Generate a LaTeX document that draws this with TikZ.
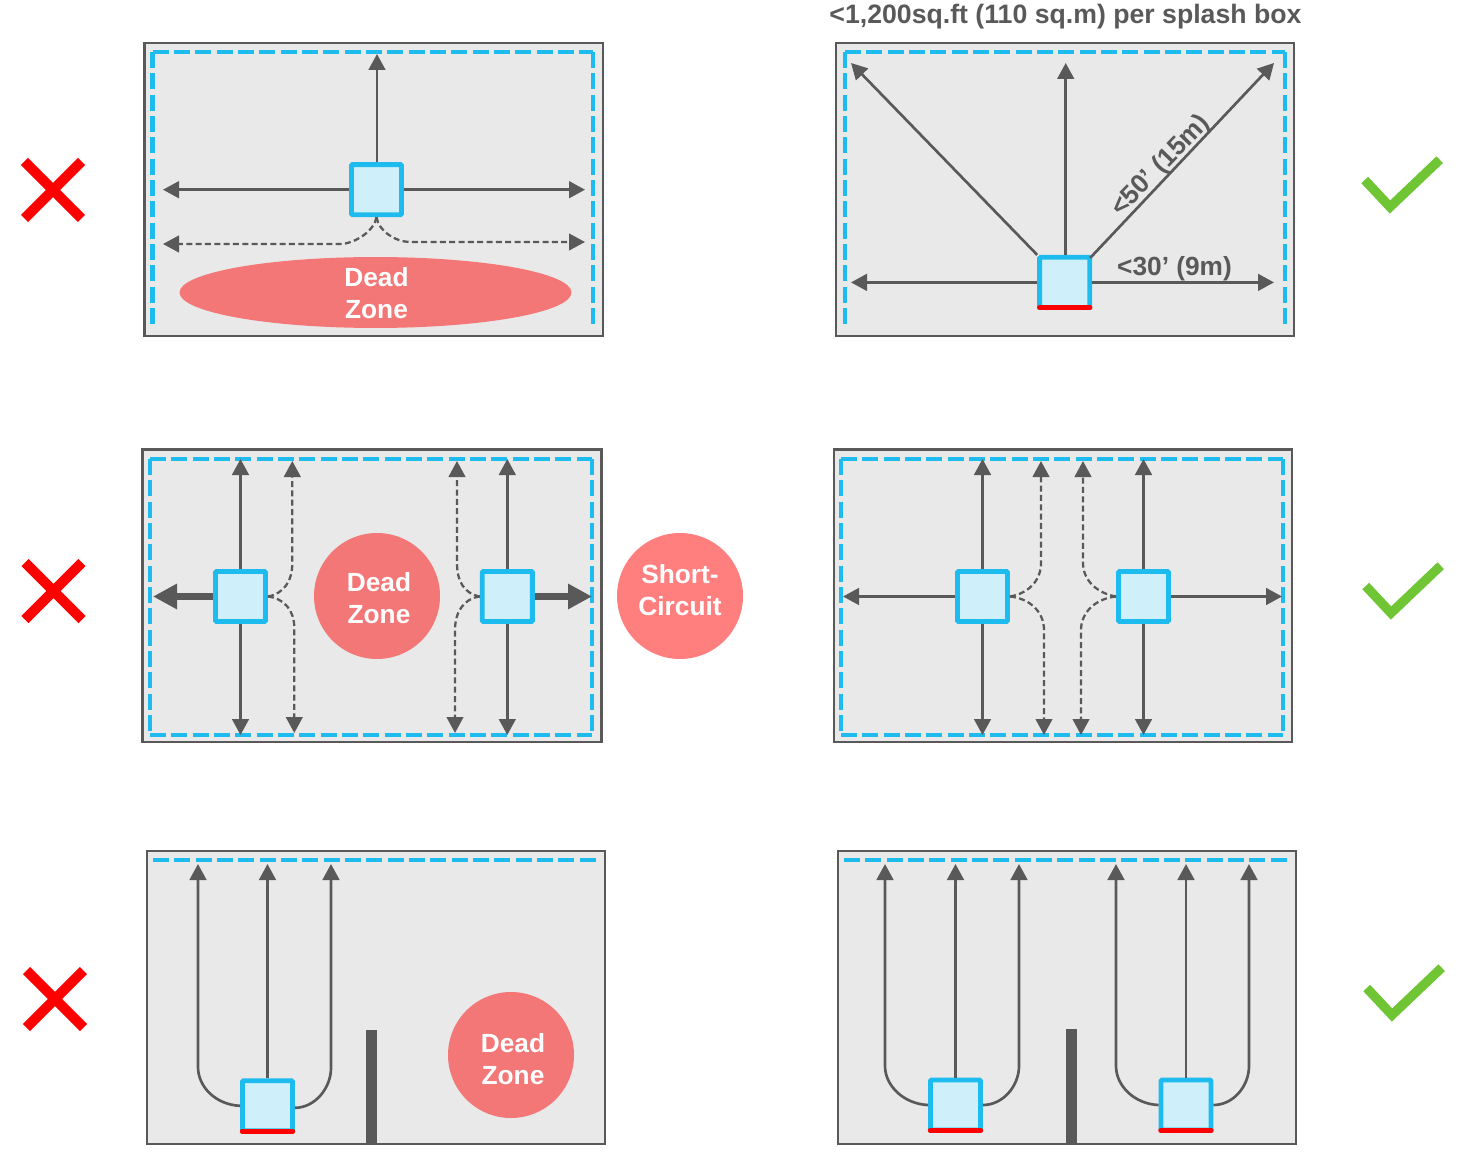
\documentclass[tikz,border=0pt]{standalone}
\usepackage{fontspec}
\setmainfont{Liberation Sans}
\usetikzlibrary{arrows.meta,shapes.geometric}
\definecolor{gfg}{HTML}{595959}
\definecolor{panelbg}{HTML}{E9E9E9}
\definecolor{splash}{HTML}{1EBCEE}
\definecolor{splashin}{HTML}{CFF0FA}
\definecolor{dead}{HTML}{F47777}
\definecolor{shortc}{HTML}{FF7F7F}
\definecolor{okgreen}{HTML}{70C535}
\tikzset{
  panel/.style={draw=gfg,fill=panelbg,line width=1.7pt},
  wavefront/.style={draw=splash,line width=3.6pt,dash pattern=on 12pt off 4pt},
  speaker/.style={rectangle,draw=splash,fill=splashin,line width=3.6pt,minimum size=37.6pt,inner sep=0pt,rounded corners=0.8pt},
  redbar/.style={draw=red,line width=3.6pt,line cap=round,shorten <=1.6pt,shorten >=1.6pt},
  ray/.style={draw=gfg,line width=2pt,-{Triangle[length=12pt,width=12.5pt]}},
  refl/.style={draw=gfg,line width=1.7pt,dash pattern=on 4.5pt off 2.5pt,-{Triangle[length=12pt,width=12.5pt,sep=0pt]}},
  thick ray/.style={draw=gfg,line width=5.8pt,-{Triangle[length=18pt,width=18pt]}},
  wall/.style={fill=gfg},
  deadzone/.style={circle,fill=dead,minimum size=94.5pt,inner sep=0pt},
  white label/.style={text=white,font=\fontsize{19.7}{24}\selectfont\bfseries,align=center,inner sep=0pt},
  gray label/.style={text=gfg,font=\fontsize{19.7}{24}\selectfont\bfseries,inner sep=0pt},
  crossmark/.style={draw=red,line width=7.5pt},
  tickmark/.style={draw=okgreen,line width=7pt,miter limit=10},
}
\begin{document}
\begin{tikzpicture}[x=0.75pt,y=-0.75pt]
\useasboundingbox (0,0) rectangle (1460,1155);

% ===== Row 1 left =====
\draw[panel] (144.5,43) rectangle (603,336);
\draw[wavefront] (152.5,52) -- (152.5,325) (152.5,52) -- (593,52) (593,52) -- (593,325);
\node[ellipse,fill=dead,minimum width=294pt,minimum height=53.2pt,inner sep=0pt] (ell) at (375.5,292.5) {};
\node[white label] (ellt) at (376.5,293) {Dead\\Zone};
\node[speaker] (a) at (376.5,189.7) {};
\coordinate (aU) at (377,54);
\coordinate (aL) at (163,189.7);
\coordinate (aR) at (585,189.7);
\coordinate (aDL) at (163,244);
\coordinate (aDR) at (585,242);
\coordinate (aKL) at (340,244);
\coordinate (aKR) at (410,242);
\draw[ray] (a.north) ++(0.5,0) -- (aU);
\draw[ray] (a.west) -- (aL);
\draw[ray] (a.east) -- (aR);
\draw[refl] (a.south) .. controls +(-2,14) and +(14,0) .. (aKL) -- (aDL);
\draw[refl] (a.south) .. controls +(2,14) and +(-14,0) .. (aKR) -- (aDR);

% ===== Row 1 right =====
\node[text=gfg,font=\fontsize{20}{24}\selectfont\bfseries,inner sep=0pt] (title) at (1065.5,17) {<1,200sq.ft (110 sq.m) per splash box};
\draw[panel] (836,43) rectangle (1294,336);
\draw[wavefront] (845,52) -- (845,325) (845,52) -- (1285,52) (1285,52) -- (1285,325);
\node[speaker] (b) at (1064.7,282.4) {};
\coordinate (bU) at (1065.7,63);
\coordinate (bNW) at (851,63);
\coordinate (bNE) at (1274,63);
\coordinate (bL) at (851,282.4);
\coordinate (bR) at (1274,282.4);
\draw[ray] (b.north) ++(1,0) -- (bU);
\draw[ray] (b.north west) -- (bNW);
\draw[ray] (b.north east) ++(-2,3) -- (bNE);
\draw[ray] (b.west) -- (bL);
\draw[ray] (b.east) -- (bR);
\draw[redbar] ([yshift=1.6pt]b.south west) -- ([yshift=1.6pt]b.south east);
\node[gray label,rotate=46] (d50) at (1161,166) {<50’ (15m)};
\node[gray label] (d30) at (1174.5,268.5) {<30’ (9m)};

% ===== Row 2 left =====
\draw[panel] (142.5,449.5) rectangle (601.5,742);
\draw[wavefront] (150,459) -- (592,459) (150,459) -- (150,735) (592,459) -- (592,735) (150,735) -- (592,735);
\node[deadzone] (c0) at (377,596) {};
\node[white label] (c0t) at (379,598) {Dead\\Zone};
\node[circle,fill=shortc,minimum size=94.5pt,inner sep=0pt] (c9) at (680,596) {};
\node[white label] (c9t) at (680,590) {Short-\\Circuit};
\node[speaker] (cl) at (240.5,596.5) {};
\node[speaker] (cr) at (507.3,596.5) {};
\coordinate (clU) at (240.5,459); \coordinate (clD) at (240.5,735);
\coordinate (crU) at (507.3,459); \coordinate (crD) at (507.3,735);
\coordinate (clW) at (153,596.5); \coordinate (crE) at (592,596.5);
\coordinate (clKU) at (292.3,563); \coordinate (clTU) at (292.3,461);
\coordinate (clKD) at (294.3,628); \coordinate (clTD) at (294.3,733);
\coordinate (crKU) at (457,563); \coordinate (crTU) at (457,461);
\coordinate (crKD) at (455,630); \coordinate (crTD) at (455,733);
\draw[ray] (cl.north) -- (clU);
\draw[ray] (cl.south) -- (clD);
\draw[ray] (cr.north) -- (crU);
\draw[ray] (cr.south) -- (crD);
\draw[thick ray] (cl.west) -- (clW);
\draw[thick ray] (cr.east) -- (crE);
\draw[refl] (cl.east) .. controls +(16,-3) and +(0,18) .. (clKU) -- (clTU);
\draw[refl] (cl.east) .. controls +(16,2) and +(0,-18) .. (clKD) -- (clTD);
\draw[refl] (cr.west) .. controls +(-16,-3) and +(0,18) .. (crKU) -- (crTU);
\draw[refl] (cr.west) .. controls +(-16,2) and +(0,-18) .. (crKD) -- (crTD);

% ===== Row 2 right =====
\draw[panel] (834,449.5) rectangle (1292,742);
\draw[wavefront] (841,459) -- (1283,459) (841,459) -- (841,735) (1283,459) -- (1283,735) (841,735) -- (1283,735);
\node[speaker] (dl) at (982.5,596.5) {};
\node[speaker] (dr) at (1143.5,596.5) {};
\coordinate (dlU) at (982.5,459); \coordinate (dlD) at (982.5,735);
\coordinate (drU) at (1143.5,459); \coordinate (drD) at (1143.5,735);
\coordinate (dlW) at (843,596.5); \coordinate (drE) at (1282,596.5);
\coordinate (dlKU) at (1041,563); \coordinate (dlTU) at (1041,461);
\coordinate (dlKD) at (1044,630); \coordinate (dlTD) at (1044,735);
\coordinate (drKU) at (1083,563); \coordinate (drTU) at (1083,461);
\coordinate (drKD) at (1081,630); \coordinate (drTD) at (1081,735);
\draw[ray] (dl.north) -- (dlU);
\draw[ray] (dl.south) -- (dlD);
\draw[ray] (dr.north) -- (drU);
\draw[ray] (dr.south) -- (drD);
\draw[ray] (dl.west) -- (dlW);
\draw[ray] (dr.east) -- (drE);
\draw[refl] (dl.east) .. controls +(18,-3) and +(0,18) .. (dlKU) -- (dlTU);
\draw[refl] (dl.east) .. controls +(20,2) and +(0,-18) .. (dlKD) -- (dlTD);
\draw[refl] (dr.west) .. controls +(-18,-3) and +(0,18) .. (drKU) -- (drTU);
\draw[refl] (dr.west) .. controls +(-20,2) and +(0,-18) .. (drKD) -- (drTD);

% ===== Row 3 left =====
\draw[panel] (147,851) rectangle (605,1144);
\draw[wavefront] (153,860) -- (600,860);
\fill[wall] (366,1030) rectangle (377,1144);
\node[deadzone] (e0) at (511,1055) {};
\node[white label] (e0t) at (513,1059) {Dead\\Zone};
\node[speaker] (e) at (267.5,1105.8) {};
\coordinate (eU) at (267.5,864); \coordinate (eLU) at (198,864); \coordinate (eRU) at (331,864);
\coordinate (eLK) at (198,1067); \coordinate (eRK) at (331,1068);
\draw[ray] (e.north) -- (eU);
\draw[ray] (e.west) .. controls +(-24,-1) and +(0,20) .. (eLK) -- (eLU);
\draw[ray] (e.east) ++(0,2) .. controls +(20,0) and +(0,20) .. (eRK) -- (eRU);
\draw[redbar] ([yshift=1.6pt]e.south west) -- ([yshift=1.6pt]e.south east);

% ===== Row 3 right =====
\draw[panel] (838,851) rectangle (1296,1144);
\draw[wavefront] (844,860) -- (1290,860);
\fill[wall] (1066,1029) rectangle (1077,1144);
\node[speaker] (fl) at (955.5,1105) {};
\node[speaker] (fr) at (1186,1105) {};
\coordinate (flU) at (955.5,864); \coordinate (flLU) at (885,864); \coordinate (flRU) at (1019,864);
\coordinate (flLK) at (885,1066); \coordinate (flRK) at (1019,1066);
\coordinate (frU) at (1186,864); \coordinate (frLU) at (1116,864); \coordinate (frRU) at (1249,864);
\coordinate (frLK) at (1116,1066); \coordinate (frRK) at (1249,1066);
\draw[ray] (fl.north) -- (flU);
\draw[ray] (fl.west) .. controls +(-24,-1) and +(0,20) .. (flLK) -- (flLU);
\draw[ray] (fl.east) .. controls +(20,0) and +(0,20) .. (flRK) -- (flRU);
\draw[redbar] ([yshift=1.6pt]fl.south west) -- ([yshift=1.6pt]fl.south east);
\draw[ray] (fr.north) -- (frU);
\draw[ray] (fr.west) .. controls +(-24,-1) and +(0,20) .. (frLK) -- (frLU);
\draw[ray] (fr.east) .. controls +(20,0) and +(0,20) .. (frRK) -- (frRU);
\draw[redbar] ([yshift=1.6pt]fr.south west) -- ([yshift=1.6pt]fr.south east);

% ===== Crosses =====
\draw[crossmark] (24.5,161.5) -- (81.5,218.5) (81.5,161.5) -- (24.5,218.5);
\draw[crossmark] (25,562.5) -- (82,619.5) (82,562.5) -- (25,619.5);
\draw[crossmark] (26.5,970.5) -- (83.5,1027.5) (83.5,970.5) -- (26.5,1027.5);

% ===== Ticks =====
\draw[tickmark] (1364.7,180) -- (1390,207) -- (1439.7,159.7);
\draw[tickmark] (1365.7,586) -- (1391,613) -- (1440.7,565.7);
\draw[tickmark] (1366.7,988) -- (1392,1015) -- (1441.7,967.7);
\end{tikzpicture}
\end{document}
